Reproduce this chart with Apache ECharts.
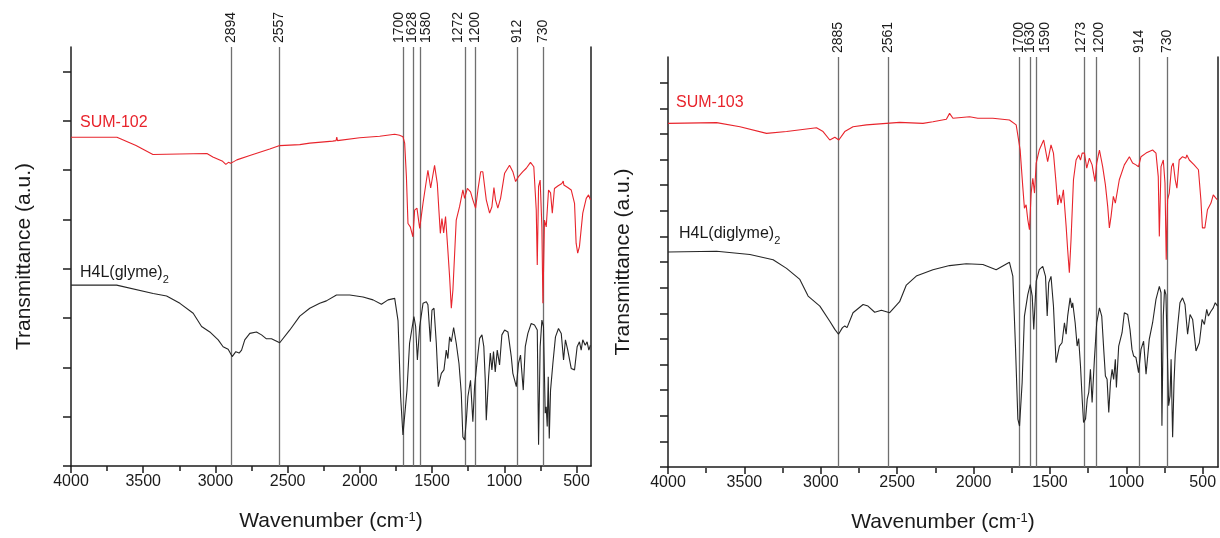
<!DOCTYPE html>
<html>
<head>
<meta charset="utf-8">
<script src="https://cdn.jsdelivr.net/npm/echarts@6/dist/echarts.min.js"></script>
<style>
  html, body { margin: 0; padding: 0; background: #fff; }
  #chart { width: 1220px; height: 538px; }
</style>
</head>
<body>
<div id="chart"></div>
<script>
// tick positions (wavenumber, cm-1)
const majorTicks = [4000, 3500, 3000, 2500, 2000, 1500, 1000, 500];
const minorTicks = [3750, 3250, 2750, 2250, 1750, 1250, 750];
const leftYTicks = [0, 1, 2, 3, 4, 5, 6, 7, 8];
const rightYTicks = [0, 1, 2, 3, 4, 5, 6, 7, 8, 9, 10, 11, 12, 13, 14, 15];

// marked bands
const peaksLeft = [2894, 2557, 1700, 1628, 1580, 1272, 1200, 912, 730];
const peaksRight = [2885, 2561, 1700, 1630, 1590, 1273, 1200, 914, 730];
// where each band label sits (labels were nudged apart in the figure)
const peakLabelAtLeft = [2894, 2557, 1728, 1635, 1541, 1320, 1200, 912, 730];
const peakLabelAtRight = [2885, 2561, 1700, 1630, 1534, 1294, 1180, 914, 730];

// spectra: [wavenumber, transmittance (a.u.)]
const sum102 = [
  [4000,6.67],[3682,6.67],[3550,6.50],[3433,6.32],[3250,6.33],[3059,6.34],[3018,6.27],[2950,6.18],
  [2928,6.12],[2910,6.16],[2895,6.14],[2870,6.18],[2852,6.21],[2762,6.30],[2624,6.43],[2555,6.50],
  [2416,6.52],[2347,6.55],[2188,6.59],[2165,6.60],[2160,6.67],[2155,6.60],[2001,6.66],[1863,6.69],
  [1759,6.73],[1725,6.71],[1702,6.68],[1690,6.55],[1678,5.87],[1667,4.92],[1651,4.85],[1633,4.65],
  [1621,5.19],[1605,5.23],[1586,4.82],[1563,5.33],[1529,6.00],[1510,5.64],[1483,6.10],[1464,5.73],
  [1453,5.19],[1443,4.72],[1432,5.02],[1420,4.73],[1407,5.06],[1391,4.38],[1379,3.84],[1367,3.20],
  [1356,3.57],[1333,4.99],[1310,5.26],[1287,5.60],[1275,5.43],[1256,5.63],[1234,5.56],[1218,5.40],
  [1199,5.23],[1183,5.60],[1164,5.97],[1149,5.97],[1125,5.40],[1102,5.13],[1086,5.26],[1072,5.65],
  [1061,5.40],[1045,5.23],[1026,5.43],[998,5.94],[964,6.10],[941,5.97],[922,5.77],[902,5.87],
  [872,5.97],[848,6.04],[819,6.16],[796,6.07],[779,5.19],[772,4.08],[763,5.67],[752,5.80],
  [740,4.85],[733,3.30],[722,4.99],[710,4.85],[694,5.60],[680,5.54],[668,5.13],[653,5.63],
  [630,5.68],[602,5.73],[592,5.78],[588,5.70],[561,5.65],[537,5.60],[514,5.33],[503,4.52],
  [492,4.32],[480,4.45],[457,5.13],[433,5.43],[417,5.50],[404,5.40]
];
const glyme = [
  [4000,3.67],[3684,3.67],[3431,3.50],[3338,3.45],[3246,3.30],[3154,3.10],[3096,2.83],[3039,2.72],
  [2981,2.56],[2947,2.42],[2912,2.37],[2884,2.22],[2859,2.32],[2836,2.29],[2819,2.35],[2797,2.56],
  [2762,2.69],[2716,2.72],[2681,2.66],[2647,2.58],[2612,2.58],[2555,2.50],[2485,2.76],[2416,3.04],
  [2347,3.20],[2278,3.30],[2232,3.35],[2162,3.47],[2070,3.47],[1978,3.43],[1909,3.37],[1851,3.28],
  [1805,3.37],[1759,3.40],[1736,2.95],[1718,1.41],[1702,0.63],[1690,0.66],[1674,1.54],[1656,2.49],
  [1626,3.03],[1614,2.83],[1602,2.15],[1586,2.83],[1563,3.30],[1540,3.33],[1529,3.27],[1512,2.52],
  [1501,3.16],[1487,3.20],[1471,2.49],[1457,1.61],[1436,1.88],[1418,1.95],[1402,2.35],[1391,2.18],
  [1379,2.62],[1367,2.52],[1351,2.81],[1333,2.49],[1314,2.08],[1298,1.47],[1287,0.59],[1275,0.53],
  [1263,0.93],[1252,1.41],[1234,1.74],[1218,0.90],[1206,1.61],[1190,2.08],[1171,2.59],[1155,2.66],
  [1142,2.42],[1132,1.74],[1125,0.93],[1109,1.81],[1097,2.29],[1086,1.95],[1075,2.32],[1063,1.91],
  [1049,2.35],[1033,2.05],[1017,2.66],[998,2.76],[975,2.72],[952,2.22],[941,1.88],[929,1.85],
  [917,1.61],[902,2.08],[888,2.25],[869,1.54],[855,2.42],[837,2.69],[814,2.89],[791,2.86],
  [772,2.76],[763,0.43],[752,2.42],[740,2.96],[729,2.83],[717,1.07],[710,1.20],[703,0.80],
  [696,1.81],[689,0.56],[680,1.54],[664,2.08],[646,2.62],[625,2.79],[606,2.69],[590,2.15],
  [577,2.56],[561,2.35],[537,1.98],[514,1.95],[496,2.42],[480,2.52],[468,2.35],[457,2.56],
  [440,2.45],[427,2.52],[415,2.35],[404,2.45]
];
const sum103 = [
  [4000,13.41],[3682,13.44],[3529,13.28],[3355,13.02],[3224,13.09],[3028,13.24],[2985,13.09],[2941,12.76],
  [2908,12.87],[2882,12.76],[2843,13.09],[2789,13.28],[2701,13.35],[2571,13.41],[2484,13.45],[2331,13.41],
  [2266,13.47],[2178,13.57],[2157,13.80],[2135,13.61],[2026,13.67],[1972,13.61],[1874,13.61],[1765,13.54],
  [1721,13.35],[1711,13.28],[1695,12.37],[1678,10.95],[1667,10.10],[1656,10.23],[1645,9.65],[1634,9.26],
  [1623,10.69],[1612,11.27],[1601,10.69],[1590,11.86],[1570,12.37],[1541,12.76],[1515,11.92],[1493,12.57],
  [1477,12.25],[1460,11.08],[1449,10.23],[1438,10.62],[1427,10.30],[1412,10.82],[1394,9.39],[1384,8.48],
  [1373,7.58],[1362,8.87],[1346,11.21],[1329,11.98],[1312,12.18],[1300,11.98],[1289,12.25],[1274,12.25],
  [1259,11.66],[1242,12.05],[1224,11.79],[1205,11.14],[1194,11.86],[1176,12.37],[1155,11.72],[1137,11.01],
  [1122,10.17],[1111,9.33],[1100,9.78],[1085,10.56],[1072,10.30],[1046,11.21],[1013,11.79],[980,12.11],
  [959,11.86],[937,11.79],[920,11.72],[904,12.11],[871,12.25],[850,12.31],[828,12.37],[806,12.25],
  [791,11.33],[784,9.00],[773,11.72],[758,11.98],[747,11.08],[739,8.09],[730,10.43],[719,10.69],
  [704,11.72],[693,11.86],[680,11.21],[669,10.88],[654,11.98],[632,12.11],[610,12.05],[604,12.18],
  [588,11.98],[556,11.79],[528,11.60],[512,10.43],[502,9.33],[486,9.33],[469,10.04],[446,10.30],
  [431,10.62],[414,10.49],[405,10.43]
];
const diglyme = [
  [4000,8.39],[3682,8.42],[3464,8.29],[3312,8.09],[3224,7.75],[3137,7.32],[3083,6.67],[3006,6.28],
  [2941,5.69],[2908,5.37],[2884,5.18],[2858,5.44],[2843,5.50],[2828,5.44],[2789,6.02],[2723,6.34],
  [2691,6.28],[2647,6.04],[2603,6.12],[2549,6.02],[2484,6.45],[2440,7.10],[2375,7.45],[2266,7.70],
  [2157,7.86],[2048,7.93],[1939,7.90],[1852,7.70],[1765,7.99],[1743,7.45],[1725,4.59],[1710,1.87],
  [1699,1.60],[1682,3.30],[1667,5.89],[1645,6.73],[1629,7.12],[1616,6.67],[1606,5.37],[1590,7.25],
  [1570,7.70],[1547,7.83],[1529,7.44],[1518,5.89],[1508,7.19],[1493,7.44],[1477,6.28],[1460,4.07],
  [1438,4.72],[1421,4.85],[1405,5.63],[1394,5.18],[1384,5.89],[1368,6.60],[1357,6.21],[1351,6.41],
  [1335,5.63],[1322,4.72],[1312,5.01],[1300,3.94],[1289,2.65],[1280,1.74],[1267,1.87],[1256,2.65],
  [1246,2.91],[1235,3.81],[1224,2.52],[1209,4.20],[1194,5.63],[1176,6.21],[1161,5.89],[1148,4.59],
  [1137,3.55],[1126,3.42],[1115,2.13],[1104,3.30],[1093,3.81],[1083,3.42],[1072,4.20],[1065,3.10],
  [1050,4.72],[1028,5.24],[1013,6.02],[991,5.95],[976,5.37],[963,4.59],[952,4.33],[937,4.27],
  [920,3.68],[904,4.59],[887,4.91],[871,3.62],[850,4.98],[828,5.63],[806,6.54],[784,7.05],
  [773,6.80],[767,1.61],[758,5.89],[750,6.93],[741,6.73],[732,4.59],[723,2.39],[714,2.77],
  [707,4.20],[697,1.16],[688,3.30],[680,4.40],[664,5.50],[649,6.41],[632,6.60],[616,6.34],
  [599,5.18],[583,5.95],[566,5.76],[544,4.53],[522,4.85],[504,5.76],[489,5.56],[474,6.15],
  [463,5.89],[446,6.08],[431,6.21],[418,6.41],[403,6.28]
];

const FONT = '"Liberation Sans", Arial, sans-serif';
const AX = '#1c1c1c';
const RED = '#e8242c';
const BLACK = '#262626';
const REF = '#6f6f6f';

// bottom axis with labels and major ticks
function mainX(gi) {
  return {
    type: 'value', gridIndex: gi, position: 'bottom', inverse: true, min: 400, max: 4000,
    axisLine: { show: true, onZero: false, lineStyle: { color: AX, width: 1.5 } },
    axisTick: { show: true, inside: false, length: 7, customValues: majorTicks, lineStyle: { color: AX, width: 1.5 } },
    axisLabel: {
      show: true, customValues: majorTicks, margin: 8, fontSize: 16, color: '#1a1a1a', fontFamily: FONT,
      formatter: (v) => String(v)
    },
    splitLine: { show: false },
    name: 'Wavenumber (cm{sup|-1})', nameLocation: 'middle', nameGap: 45,
    nameTextStyle: {
      fontSize: 21, color: '#1a1a1a', fontFamily: FONT,
      rich: { sup: { fontSize: 13, verticalAlign: 'top', color: '#1a1a1a', fontFamily: FONT } }
    }
  };
}
// top axis carrying the rotated band labels only
function peakX(gi, labelAt, peaks) {
  const text = {};
  labelAt.forEach((v, i) => { text[v] = String(peaks[i]); });
  return {
    type: 'value', gridIndex: gi, position: 'top', inverse: true, min: 400, max: 4000,
    axisLine: { show: false }, axisTick: { show: false }, splitLine: { show: false },
    axisLabel: {
      show: true, customValues: labelAt, rotate: 90, margin: 4, fontSize: 14,
      color: '#1a1a1a', fontFamily: FONT, hideOverlap: false,
      formatter: (v) => text[v] || ''
    }
  };
}
// minor ticks on an overlaid grid
function minorX(gi) {
  return {
    type: 'value', gridIndex: gi, position: 'bottom', inverse: true, min: 400, max: 4000,
    axisLine: { show: false },
    axisTick: { show: true, inside: false, length: 5, customValues: minorTicks, lineStyle: { color: AX, width: 1.5 } },
    axisLabel: { show: false }, splitLine: { show: false }
  };
}
function leftY(gi, max, ticks, gap) {
  return {
    type: 'value', gridIndex: gi, position: 'left', min: 0, max: max,
    axisLine: { show: true, onZero: false, lineStyle: { color: AX, width: 1.5 } },
    axisTick: { show: true, inside: false, length: 8, customValues: ticks, lineStyle: { color: AX, width: 1.5 } },
    axisLabel: { show: false }, splitLine: { show: false },
    name: 'Transmittance (a.u.)', nameLocation: 'middle', nameGap: gap,
    nameTextStyle: { fontSize: 21, color: '#1a1a1a', fontFamily: FONT }
  };
}
function frameY(gi, max) {
  return {
    type: 'value', gridIndex: gi, position: 'right', min: 0, max: max,
    axisLine: { show: true, onZero: false, lineStyle: { color: AX, width: 1.5 } },
    axisTick: { show: false }, axisLabel: { show: false }, splitLine: { show: false }
  };
}
function hiddenY(gi) {
  return { type: 'value', gridIndex: gi, min: 0, max: 1, show: false };
}
function spectrum(xi, yi, data, color, peaks) {
  const s = {
    type: 'line', xAxisIndex: xi, yAxisIndex: yi, data: data,
    showSymbol: false, symbol: 'none', silent: true,
    lineStyle: { color: color, width: 1.1 }, itemStyle: { color: color }, z: 3
  };
  if (peaks) {
    s.markLine = {
      silent: true, symbol: ['none', 'none'], label: { show: false },
      lineStyle: { color: REF, width: 1.3, type: 'solid' },
      data: peaks.map(v => ({ xAxis: v })), z: 1
    };
  }
  return s;
}

const chart = echarts.init(document.getElementById('chart'), null, { renderer: 'canvas' });
chart.setOption({
  animation: false,
  backgroundColor: '#ffffff',
  grid: [
    { left: 71, top: 47, width: 520, height: 419 },
    { left: 71, top: 47, width: 520, height: 419 },
    { left: 668, top: 57, width: 550, height: 411 },
    { left: 668, top: 57, width: 550, height: 411 }
  ],
  xAxis: [
    mainX(0), peakX(0, peakLabelAtLeft, peaksLeft), minorX(1),
    mainX(2), peakX(2, peakLabelAtRight, peaksRight), minorX(3)
  ],
  yAxis: [
    leftY(0, 8.5, leftYTicks, 36), frameY(0, 8.5), hiddenY(1),
    leftY(2, 16, rightYTicks, 34), frameY(2, 16), hiddenY(3)
  ],
  series: [
    spectrum(0, 0, glyme, BLACK, peaksLeft),
    spectrum(0, 0, sum102, RED),
    spectrum(3, 3, diglyme, BLACK, peaksRight),
    spectrum(3, 3, sum103, RED)
  ],
  graphic: [
    { type: 'text', x: 80, y: 123, style: { text: 'SUM-102', fill: RED, fontSize: 16, fontFamily: FONT, verticalAlign: 'middle' } },
    { type: 'text', x: 80, y: 273, style: {
        text: 'H4L(glyme){sub|2}', fill: '#1a1a1a', fontSize: 16, fontFamily: FONT, verticalAlign: 'middle',
        rich: { sub: { fontSize: 11, fontFamily: FONT, fill: '#1a1a1a', verticalAlign: 'bottom', padding: [0, 0, -4, 0] } } } },
    { type: 'text', x: 676, y: 103, style: { text: 'SUM-103', fill: RED, fontSize: 16, fontFamily: FONT, verticalAlign: 'middle' } },
    { type: 'text', x: 679, y: 234, style: {
        text: 'H4L(diglyme){sub|2}', fill: '#1a1a1a', fontSize: 16, fontFamily: FONT, verticalAlign: 'middle',
        rich: { sub: { fontSize: 11, fontFamily: FONT, fill: '#1a1a1a', verticalAlign: 'bottom', padding: [0, 0, -4, 0] } } } }
  ]
});
</script>
</body>
</html>
